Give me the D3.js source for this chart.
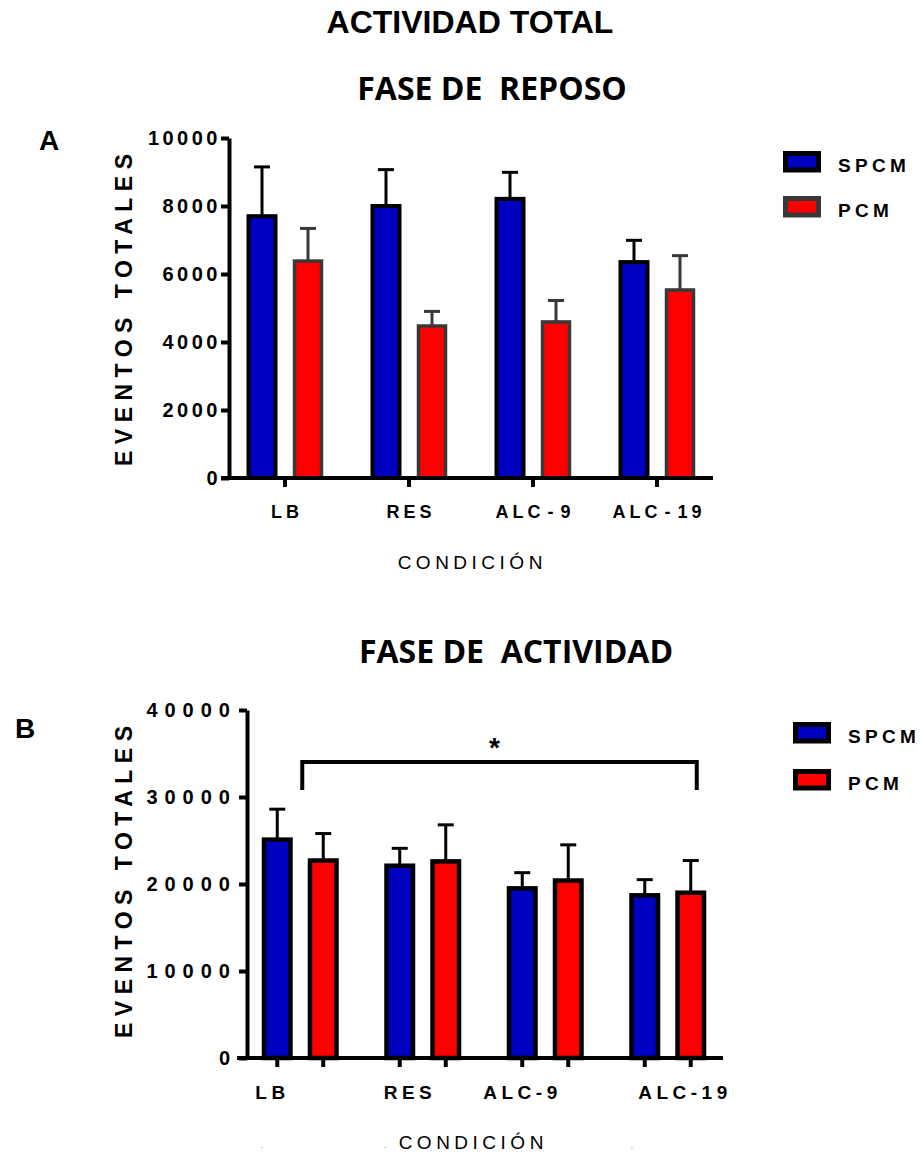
<!DOCTYPE html>
<html lang="es">
<head>
<meta charset="UTF-8">
<title>Actividad total</title>
<script src="https://d3js.org/d3.v7.min.js"></script>
<style>
  body { margin: 0; background: #fff; }
  svg { display: block; font-family: "Liberation Sans", Arial, sans-serif; }
  .axis .domain, .axis .tick line { stroke: #000; stroke-width: 4; }
  .axis .tick text { font-weight: bold; fill: #000; font-family: "Liberation Sans", Arial, sans-serif; }
</style>
</head>
<body>
<svg width="920" height="1154"></svg>
<script>
const categories = ["LB", "RES", "ALC-9", "ALC-19"];
const groups = ["SPCM", "PCM"];

// fase de reposo
const reposoSPCM = [7700, 8000, 8210, 6350];
const reposoSPCMsem = [1450, 1070, 780, 640];
const reposoPCM = [6380, 4470, 4590, 5530];
const reposoPCMsem = [960, 430, 630, 1010];
const reposoTicks = [0, 2000, 4000, 6000, 8000, 10000];
const reposoLabels = ["LB", "RES", "ALC - 9", "ALC - 19"];

// fase de actividad
const actSPCM = [25100, 22100, 19500, 18700];
const actSPCMsem = [3500, 2000, 1800, 1800];
const actPCM = [22700, 22600, 20400, 19000];
const actPCMsem = [3100, 4200, 4100, 3700];
const actTicks = [0, 10000, 20000, 30000, 40000];
const actLabels = ["LB", "RES", "ALC-9", "ALC-19"];
const actSignif = { from: "LB", to: "ALC-19", label: "*" };

const svg = d3.select("svg");
const fills = { SPCM: "#0000C0", PCM: "#FF0000" };

function text(x, y, str, size, opts = {}) {
  const t = svg.append("text")
    .attr("x", x).attr("y", y)
    .attr("font-size", size)
    .attr("font-weight", opts.weight || "bold")
    .attr("text-anchor", opts.anchor || "start")
    .attr("fill", opts.fill || "#000")
    .style("white-space", "pre")
    .text(str);
  if (opts.family) t.attr("font-family", opts.family);
  if (opts.spacing) t.attr("letter-spacing", opts.spacing);
  if (opts.dx) t.attr("dx", opts.dx);
  return t;
}

function drawPanel(p) {
  const y = d3.scaleLinear().domain([0, d3.max(p.ticks)]).range(p.yRange);
  const x0 = d3.scaleBand().domain(categories).range(p.xRange);
  const xs = d3.scalePoint().domain(groups).range([-23, 23]);
  const cx = (c, s) => x0(c) + x0.bandwidth() / 2 + xs(s);

  const g = svg.append("g");

  // error bars first, bars cover their base
  groups.forEach(s => {
    const rows = categories.map((c, i) => ({ c, v: p.mean[s][i], e: p.sem[s][i] }));
    const eb = g.append("g")
      .attr("stroke", p.stroke[s])
      .attr("stroke-width", 3);
    eb.selectAll("line.v").data(rows).join("line")
      .attr("class", "v")
      .attr("x1", d => cx(d.c, s)).attr("x2", d => cx(d.c, s))
      .attr("y1", d => y(d.v)).attr("y2", d => y(d.v + d.e));
    eb.selectAll("line.cap").data(rows).join("line")
      .attr("class", "cap")
      .attr("x1", d => cx(d.c, s) - 8).attr("x2", d => cx(d.c, s) + 8)
      .attr("y1", d => y(d.v + d.e)).attr("y2", d => y(d.v + d.e));

    g.append("g").selectAll("rect").data(rows).join("rect")
      .attr("x", d => cx(d.c, s) - p.barW / 2)
      .attr("y", d => y(d.v))
      .attr("width", p.barW)
      .attr("height", d => y(0) - y(d.v))
      .attr("fill", fills[s])
      .attr("stroke", p.stroke[s])
      .attr("stroke-width", p.barStroke[s]);
  });

  // y axis
  const ya = svg.append("g")
    .attr("class", "axis")
    .attr("transform", `translate(${p.axisX},0)`)
    .call(d3.axisLeft(y).tickValues(p.ticks).tickFormat(d3.format("d"))
      .tickSize(8).tickSizeOuter(0).tickPadding(p.tickPad));
  ya.selectAll(".tick text")
    .attr("font-size", p.tickSize)
    .attr("letter-spacing", p.tickSpacing);

  // x axis
  const xa = svg.append("g")
    .attr("class", "axis")
    .attr("transform", `translate(0,${y(0)})`)
    .call(d3.axisBottom(x0).tickSize(9).tickSizeOuter(0).tickFormat("")
      .tickValues(p.perBarTicks ? [] : categories));
  xa.select(".domain").attr("d", `M${p.xLine[0]},0H${p.xLine[1]}`);
  if (p.perBarTicks) {
    const pairs = categories.flatMap(c => groups.map(s => cx(c, s)));
    xa.selectAll("line.bt").data(pairs).join("line")
      .attr("class", "bt")
      .attr("stroke", "#000").attr("stroke-width", 4)
      .attr("x1", d => d).attr("x2", d => d)
      .attr("y1", 0).attr("y2", 9);
  }

  // category labels
  p.labels.forEach((lab, i) => {
    const c = categories[i];
    const lx = x0(c) + x0.bandwidth() / 2 + (p.labelShift ? p.labelShift[i] : 0);
    text(lx, p.labelY, lab, p.labelSize, { anchor: "middle", spacing: p.labelSpacing, dx: p.labelSpacing / 2 })
      .attr("word-spacing", p.wordSpacing || 0);
  });

  return { y, x0, cx };
}

// ---------- titles ----------
text(470, 33, "ACTIVIDAD TOTAL", 32, { anchor: "middle" });
text(492, 100, "FASE DE  REPOSO", 32, { anchor: "middle", family: "'Open Sans', sans-serif" });
text(516, 663, "FASE DE  ACTIVIDAD", 32, { anchor: "middle", family: "'Open Sans', sans-serif" });
text(39, 150, "A", 28);
text(15, 738, "B", 28);

// ---------- panel A ----------
drawPanel({
  ticks: reposoTicks,
  yRange: [478, 138],
  xRange: [223, 719],
  xLine: [221, 713],
  axisX: 229,
  barW: 27,
  mean: { SPCM: reposoSPCM, PCM: reposoPCM },
  sem: { SPCM: reposoSPCMsem, PCM: reposoPCMsem },
  stroke: { SPCM: "#000", PCM: "#383838" },
  barStroke: { SPCM: 4, PCM: 3.5 },
  tickPad: 0,
  tickSize: 20,
  tickSpacing: 3.5,
  labels: reposoLabels,
  labelY: 518,
  labelSize: 18,
  labelSpacing: 4,
  wordSpacing: -6
});

// ---------- panel B ----------
const pb = drawPanel({
  ticks: actTicks,
  yRange: [1058, 710],
  xRange: [239, 729],
  xLine: [237, 723],
  axisX: 247,
  barW: 26.5,
  mean: { SPCM: actSPCM, PCM: actPCM },
  sem: { SPCM: actSPCMsem, PCM: actPCMsem },
  stroke: { SPCM: "#000", PCM: "#000" },
  barStroke: { SPCM: 4.5, PCM: 4.5 },
  tickPad: 2,
  tickSize: 20,
  tickSpacing: 7,
  perBarTicks: true,
  labels: actLabels,
  labelShift: [-30, -15, -25, 15],
  labelY: 1099,
  labelSize: 19,
  labelSpacing: 4.5
});

// significance bracket
const bl = pb.x0(actSignif.from) + pb.x0.bandwidth() / 2 + 2;
const br = pb.cx(actSignif.to, "PCM") + 6;
svg.append("path")
  .attr("d", `M${bl},790V762H${br}V790`)
  .attr("fill", "none").attr("stroke", "#000").attr("stroke-width", 4);
text((bl + br) / 2 - 5, 757, actSignif.label, 28, { anchor: "middle" });

// y titles
[310, 882].forEach(cy => {
  text(0, 0, "EVENTOS TOTALES", 23, { anchor: "middle", spacing: 6.5, dx: 3.25 })
    .attr("transform", `translate(132,${cy}) rotate(-90)`);
});

// x titles
text(470, 569, "CONDICIÓN", 19, { anchor: "middle", weight: "normal", spacing: 4.5, dx: 2.25 });
text(471, 1149, "CONDICIÓN", 19, { anchor: "middle", weight: "normal", spacing: 4.5, dx: 2.25 });
[262, 385, 632].forEach(mx => text(mx, 1152, "´", 8, { anchor: "middle", weight: "normal", fill: "#444" }));

// legends
function legend(bx, by, tx, rowGap, strokes) {
  groups.forEach((s, i) => {
    svg.append("rect")
      .attr("x", bx + 2.5).attr("y", by + i * rowGap + 2.5)
      .attr("width", 33).attr("height", 16.5)
      .attr("fill", fills[s]).attr("stroke", strokes[s]).attr("stroke-width", 5);
    text(tx, by + i * rowGap + 21, s, 19, { spacing: 4.3 });
  });
}
legend(783, 151, 838, 45, { SPCM: "#000", PCM: "#383838" });
legend(793, 722, 848, 47, { SPCM: "#000", PCM: "#000" });
</script>
</body>
</html>
